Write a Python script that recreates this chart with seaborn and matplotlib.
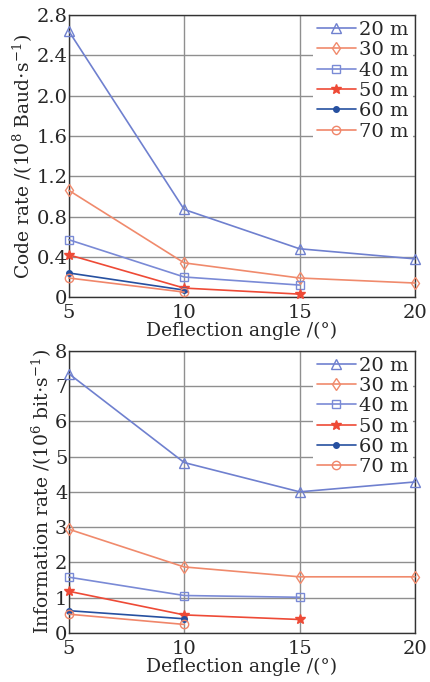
import numpy as np
import pandas as pd
import seaborn as sns
import matplotlib.pyplot as plt

sns.set_style("white")
plt.rcParams['font.family'] = ['DejaVu Serif']
plt.rcParams['mathtext.fontset'] = 'dejavuserif'

# data
labels = ["20 m", "30 m", "40 m", "50 m", "60 m", "70 m"]
angles = [[5, 10, 15, 20], [5, 10, 15, 20], [5, 10, 15], [5, 10, 15], [5, 10], [5, 10]]
code_rate = [[2.64, 0.87, 0.48, 0.38],
             [1.06, 0.34, 0.19, 0.14],
             [0.57, 0.20, 0.12],
             [0.42, 0.09, 0.03],
             [0.24, 0.07],
             [0.19, 0.05]]
info_rate = [[7.35, 4.83, 4.00, 4.28],
             [2.94, 1.87, 1.59, 1.59],
             [1.58, 1.06, 1.01],
             [1.18, 0.51, 0.38],
             [0.63, 0.40],
             [0.53, 0.24]]

colors = ["#6f80cf", "#f08a6c", "#7a8ad6", "#ee4a36", "#2650a0", "#f0866a"]
markers = ["^", "d", "s", "*", "o", "o"]
filled = [False, False, False, True, True, False]
msizes = [7, 6, 6, 7, 4, 6]

fig, axes = plt.subplots(2, 1, figsize=(4.3, 6.82), dpi=100)
plt.subplots_adjust(left=0.16, right=0.965, top=0.978, bottom=0.072, hspace=0.19)

def draw(ax, values, ylim, yticks, ylabel):
    for i in range(len(labels)):
        df = pd.DataFrame({"angle": angles[i], "rate": values[i]})
        sns.lineplot(data=df, x="angle", y="rate", ax=ax, color=colors[i],
                     marker=markers[i], markersize=msizes[i], linewidth=1.2,
                     markerfacecolor=colors[i] if filled[i] else "none",
                     markeredgecolor=colors[i], markeredgewidth=1.0,
                     label=labels[i], clip_on=False, zorder=3)
    ax.set_xlim(5, 20)
    ax.set_ylim(*ylim)
    ax.set_xticks([5, 10, 15, 20])
    ax.set_yticks(yticks)
    ax.set_yticklabels(["0" if t == 0 else f"{t:g}" if ylim[1] > 3 else f"{t:.1f}" for t in yticks])
    ax.grid(True, color="#8f8f8f", linewidth=1.0)
    ax.tick_params(axis="y", length=0, labelsize=14, pad=1)
    ax.tick_params(axis="x", length=0, labelsize=14, pad=5)
    for s in ax.spines.values():
        s.set_color("#333333")
        s.set_linewidth(1.0)
    ax.set_xlabel("Deflection angle /(°)", fontsize=13.5, labelpad=0)
    ax.set_ylabel(ylabel, fontsize=13.5, labelpad=1)
    leg = ax.legend(loc="upper right", frameon=True, fontsize=14, handlelength=2.0,
                    handletextpad=0.2, borderaxespad=0.1, labelspacing=0.12,
                    borderpad=0.2)
    leg.get_frame().set_edgecolor("none")
    leg.get_frame().set_facecolor("white")
    leg.get_frame().set_alpha(1.0)
    leg.set_zorder(5)

draw(axes[0], code_rate, (0, 2.8), np.arange(0, 2.81, 0.4),
     r"Code rate /(10$^{8}$ Baud$\cdot$s$^{-1}$)")
draw(axes[1], info_rate, (0, 8), np.arange(0, 9, 1),
     r"Information rate /(10$^{6}$ bit$\cdot$s$^{-1}$)")

fig.savefig("out.png", dpi=100)
